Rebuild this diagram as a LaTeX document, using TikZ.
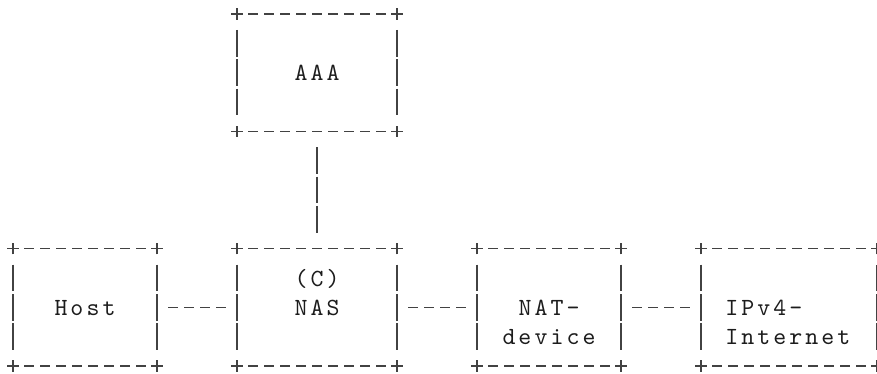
\documentclass[tikz,border=0pt]{standalone}
\usepackage{fontspec}
\usepackage{xcolor}
\usepackage{tikz}
\usetikzlibrary{calc}
\newfontfamily\asciifont{lmmono10-regular.otf}[LetterSpace=12.4]
\definecolor{ink}{HTML}{424242}
\definecolor{txt}{HTML}{1C1C1C}
\tikzset{
  boxarea/.style={draw=none, inner sep=0pt, outer sep=0pt, minimum height=88pt},
  hyph/.style={draw=ink, line width=1.2pt, dash pattern=on 7pt off 5pt,
    shorten <=8.5pt, shorten >=8.5pt},
  vbar/.style={draw=ink, line width=1.2pt, dash pattern=on 20pt off 2pt,
    shorten <=12pt, shorten >=12pt},
  plusarm/.style={draw=ink, line width=1.2pt},
  lbl/.style={text=txt, font={\asciifont\fontsize{18.5pt}{22pt}\selectfont},
    inner sep=0pt, anchor=base}
}

\begin{document}
\begin{tikzpicture}[x=12pt, y=-22pt]
  \useasboundingbox (-0.8125,-0.477) rectangle (54,12.239);
  \fill[white] (-0.8125,-0.477) rectangle (54,12.239);

  % boxes on a character grid: one unit = one column / one row
  \node[boxarea, minimum width=120pt] (aaa)  at (19,2)    {};
  \node[boxarea, minimum width=108pt] (host) at (4.5,10)  {};
  \node[boxarea, minimum width=120pt] (nas)  at (19,10)   {};
  \node[boxarea, minimum width=108pt] (nat)  at (33.5,10) {};
  \node[boxarea, minimum width=132pt] (inet) at (48.5,10) {};

  % borders: dashes, bars and a plus at each corner
  \foreach \b in {aaa,host,nas,nat,inet} {
    \draw[hyph] (\b.north west) -- (\b.north east);
    \draw[hyph] (\b.south west) -- (\b.south east);
    \draw[vbar] (\b.north west) -- (\b.south west);
    \draw[vbar] (\b.north east) -- (\b.south east);
    \foreach \k in {north west,north east,south west,south east}
      \draw[plusarm] ([xshift=-4.2pt]\b.\k) -- ([xshift=4.2pt]\b.\k)
                     ([yshift=-4.2pt]\b.\k) -- ([yshift=4.2pt]\b.\k);
  }

  % links
  \draw[vbar] (aaa) -- (nas);
  \draw[hyph] (host) -- (nas);
  \draw[hyph] (nas) -- (nat);
  \draw[hyph] (nat) -- (inet);

  % labels (base = last line)
  \node[lbl] (aaatxt) at ($(aaa)+(0,0.28)$) {AAA};
  \node[lbl] (hosttxt) at ($(host)+(0,0.28)$) {Host};
  \node[lbl, align=center] (nastxt) at ($(nas)+(0,0.28)$) {(C)\\NAS};
  \node[lbl, align=center] (nattxt) at ($(nat)+(0,1.28)$) {NAT-\\device};
  \node[lbl, align=left, anchor=base west] (inettxt) at ($(inet.west)+(1.5,1.28)$) {IPv4-\\Internet};
\end{tikzpicture}
\end{document}
